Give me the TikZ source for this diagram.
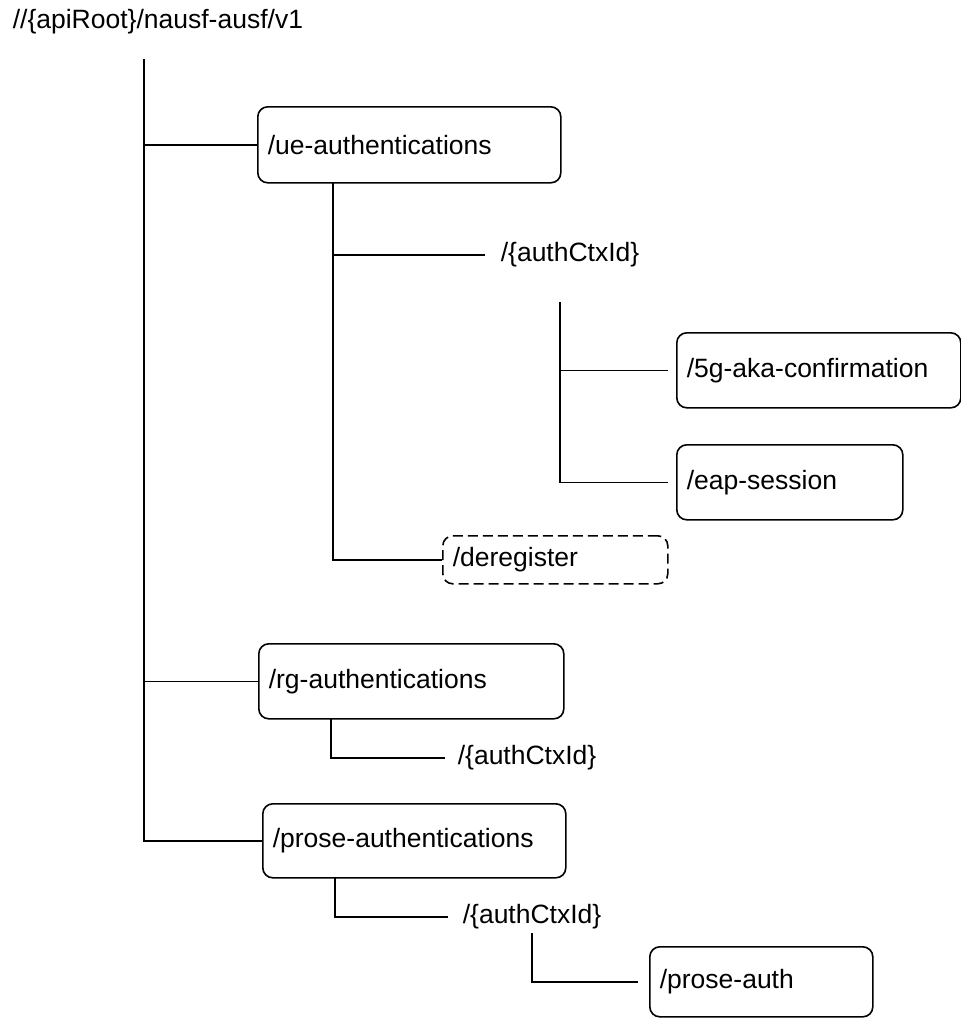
\documentclass[tikz,border=0pt]{standalone}
\usepackage{fontspec}
\setmainfont{Liberation Sans}
\usepackage{tikz}
\usetikzlibrary{positioning,calc}

\begin{document}
\begin{tikzpicture}[
    x=1pt, y=-1pt,
    line width=1.6pt,
    every node/.style={font=\fontsize{26.5}{31}\selectfont},
    box/.style={draw, rectangle, rounded corners=10pt, inner xsep=10pt, inner ysep=0pt, align=left, minimum height=75pt, anchor=north west},
    optbox/.style={box, dash pattern=on 10pt off 5pt},
    lbl/.style={inner xsep=15pt, inner ysep=0pt, anchor=west}
]
\useasboundingbox (0,0) rectangle (961,1018);

% Root
\node[inner sep=0pt, anchor=west] (root) at (12,22) {//\{apiRoot\}/nausf-ausf/v1};
\coordinate (top) at (144,59);

% Resources
\node[box, text width=283pt, minimum height=76pt] (ue) at (257,106) {/ue-authentications};
\node[box, text width=264pt] (fg) at (676,332) {/5g-aka-confirmation};
\node[box, text width=206pt] (eap) at (676,444) {/eap-session};
\node[optbox, text width=205pt, minimum height=48pt] (dereg) at (442,535) {/deregister};
\node[box, text width=285pt] (rg) at (258,643) {/rg-authentications};
\node[box, text width=283pt, minimum height=74pt] (prose) at (262,803) {/prose-authentications};
\node[box, text width=203pt, minimum height=70pt] (pauth) at (649,946) {/prose-auth};

% Sub-resource labels
\node[lbl] (ctx1) at (485,255) {/\{authCtxId\}};
\node[lbl, inner xsep=12pt] (ctx2) at (445,758) {/\{authCtxId\}};
\node[lbl, inner xsep=14pt] (ctx3) at (448,917) {/\{authCtxId\}};

% Stems
\coordinate (ueStem) at (333,182);
\coordinate (ctx1Stem) at (560,302);
\coordinate (rgStem) at (331,718);
\coordinate (proseStem) at (335,877);
\coordinate (ctx3Stem) at (532,933);

% Connections
\draw (top) |- (prose.west);
\draw (top |- ue.west) -- (ue.west);
\draw (top |- rg.west) -- (rg.west);

\draw (ueStem) |- (dereg.west);
\draw (ueStem |- ctx1.west) -- (ctx1.west);

\draw (ctx1Stem) |- ([xshift=-8pt]eap.west);
\draw (ctx1Stem |- fg.west) -- ([xshift=-8pt]fg.west);

\draw (rgStem) |- (ctx2.west);
\draw (proseStem) |- (ctx3.west);
\draw (ctx3Stem) |- ([xshift=-11pt]pauth.west);

\end{tikzpicture}
\end{document}
